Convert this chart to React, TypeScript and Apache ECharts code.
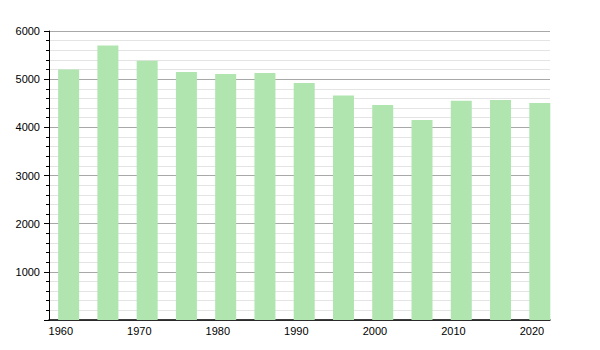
import React, { useEffect, useRef } from "react";
import * as echarts from "echarts";

const years = [1961, 1966, 1971, 1976, 1981, 1986, 1991, 1996, 2001, 2006, 2011, 2016, 2021];
const population = [5200, 5700, 5380, 5150, 5105, 5130, 4920, 4660, 4465, 4150, 4550, 4570, 4505];
const xTickLabels = [1960, 1970, 1980, 1990, 2000, 2010, 2020];

export default function App() {
  const ref = useRef<HTMLDivElement>(null);
  useEffect(() => {
    if (!ref.current) return;
    const chart = echarts.init(ref.current, null, { renderer: "svg" });
    chart.setOption({
      animation: false,
      backgroundColor: "#ffffff",
      grid: { left: 49, right: 50, top: 31, bottom: 30, containLabel: false },
      xAxis: {
        type: "value",
        min: 1958.5,
        max: 2022.3,
        axisLine: { show: true, lineStyle: { color: "#000", width: 1.5 } },
        axisTick: { show: false },
        splitLine: { show: false },
        axisLabel: {
          customValues: xTickLabels,
          formatter: (v: number) => String(v),
          color: "#000",
          fontSize: 11,
          fontFamily: "Liberation Sans, Arial, sans-serif",
          margin: 5,
        },
      },
      yAxis: {
        type: "value",
        min: 0,
        max: 6000,
        interval: 1000,
        axisLine: { show: true, lineStyle: { color: "#000", width: 1 } },
        axisTick: { show: true, length: 5, lineStyle: { color: "#000" } },
        minorTick: { show: true, splitNumber: 5, length: 3, lineStyle: { color: "#000" } },
        splitLine: { show: true, lineStyle: { color: "#a8a8a8", width: 1 } },
        minorSplitLine: { show: true, lineStyle: { color: "#e4e4e4", width: 1 } },
        axisLabel: {
          color: "#000",
          fontSize: 11,
          fontFamily: "Liberation Sans, Arial, sans-serif",
          margin: 9,
          formatter: (v: number) => (v === 0 ? "" : String(v)),
        },
      },
      series: [
        {
          type: "bar",
          barWidth: 21,
          data: years.map((y, i) => [y, population[i]]),
          itemStyle: { color: "#b0e5b0" },
        },
      ],
    });
    return () => chart.dispose();
  }, []);
  return <div ref={ref} style={{ width: 600, height: 350, position: "absolute", left: 0, top: 0 }} />;
}
